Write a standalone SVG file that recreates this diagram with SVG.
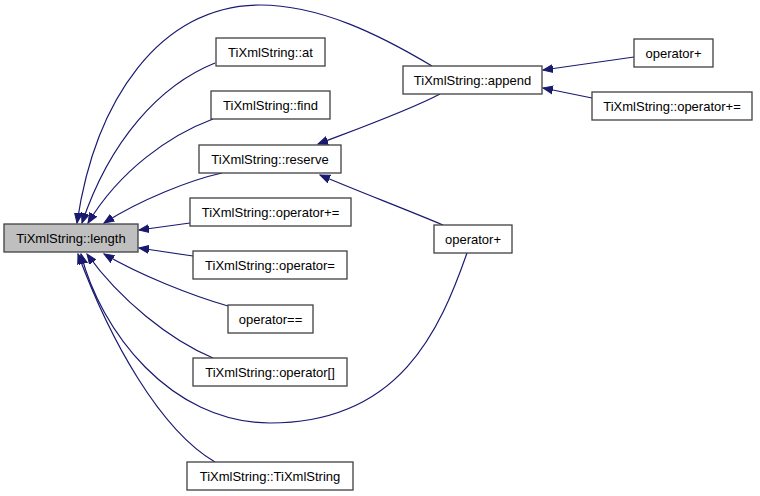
<svg xmlns="http://www.w3.org/2000/svg" width="760" height="496" viewBox="0 0 760 496">
<defs>
<marker id="ah" markerUnits="userSpaceOnUse" markerWidth="12" markerHeight="10" refX="10" refY="0" viewBox="0 -5 12 10" orient="auto">
<path d="M0,-4 L10,0 L0,4 z" fill="#191970" stroke="#191970" stroke-width="1"/>
</marker>
<style>
.n rect{fill:#ffffff;stroke:#404040;stroke-width:1.3}
.n text{font-family:"Liberation Sans",Arial,sans-serif;font-size:13px;fill:#000;text-anchor:middle}
.hl rect{fill:#bfbfbf}
.e path{fill:none;stroke:#191970;stroke-width:1.2;marker-end:url(#ah)}
</style>
</defs>
<rect width="760" height="496" fill="#ffffff"/>
<g id="edges" class="e">
<path d="M432,66 C380,35 320,5 260,5 C160,5 95,100 77,223"/>
<path d="M215,63 C160,85 110,140 82,223"/>
<path d="M213,119 C170,135 120,170 88,223"/>
<path d="M222,173 C190,180 140,200 104,223"/>
<path d="M190,223 L139,230"/>
<path d="M193,256 L139,248"/>
<path d="M228,306 C190,295 140,275 104,254"/>
<path d="M213,358 C170,340 120,300 87,254"/>
<path d="M215,462 C160,430 110,340 78,254"/>
<path d="M467,253 C440,330 400,423 270,423 C170,423 100,330 81,254"/>
<path d="M440,94 C410,110 360,128 318,144"/>
<path d="M443,225 C400,207 360,192 320,175"/>
<path d="M634,57 L543,70"/>
<path d="M592,98 L543,88"/>
</g>
<g id="n_length" class="n hl"><rect x="4" y="224" width="134" height="28"/><text x="71" y="242.5">TiXmlString::length</text></g>
<g id="n_at" class="n"><rect x="216" y="38" width="109" height="28"/><text x="270.5" y="56.5">TiXmlString::at</text></g>
<g id="n_find" class="n"><rect x="211" y="91" width="119" height="28"/><text x="270.5" y="109.5">TiXmlString::find</text></g>
<g id="n_reserve" class="n"><rect x="199" y="145" width="142" height="28"/><text x="270" y="163.5">TiXmlString::reserve</text></g>
<g id="n_opplusassign" class="n"><rect x="190" y="198" width="161" height="28"/><text x="270.5" y="216.5">TiXmlString::operator+=</text></g>
<g id="n_opassign" class="n"><rect x="193" y="251" width="154" height="28"/><text x="270" y="269.5">TiXmlString::operator=</text></g>
<g id="n_opeq" class="n"><rect x="228" y="305" width="85" height="28"/><text x="270.5" y="323.5">operator==</text></g>
<g id="n_opindex" class="n"><rect x="193" y="358" width="154" height="28"/><text x="270" y="376.5">TiXmlString::operator[]</text></g>
<g id="n_ctor" class="n"><rect x="187" y="462" width="166" height="28"/><text x="270" y="480.5">TiXmlString::TiXmlString</text></g>
<g id="n_append" class="n"><rect x="403" y="66" width="139" height="28"/><text x="472.5" y="84.5">TiXmlString::append</text></g>
<g id="n_opplus_mid" class="n"><rect x="434" y="225" width="78" height="28"/><text x="473" y="243.5">operator+</text></g>
<g id="n_opplus_top" class="n"><rect x="634" y="39" width="79" height="28"/><text x="673.5" y="57.5">operator+</text></g>
<g id="n_opplusassign_r" class="n"><rect x="592" y="92" width="160" height="28"/><text x="672" y="110.5">TiXmlString::operator+=</text></g>
</svg>
